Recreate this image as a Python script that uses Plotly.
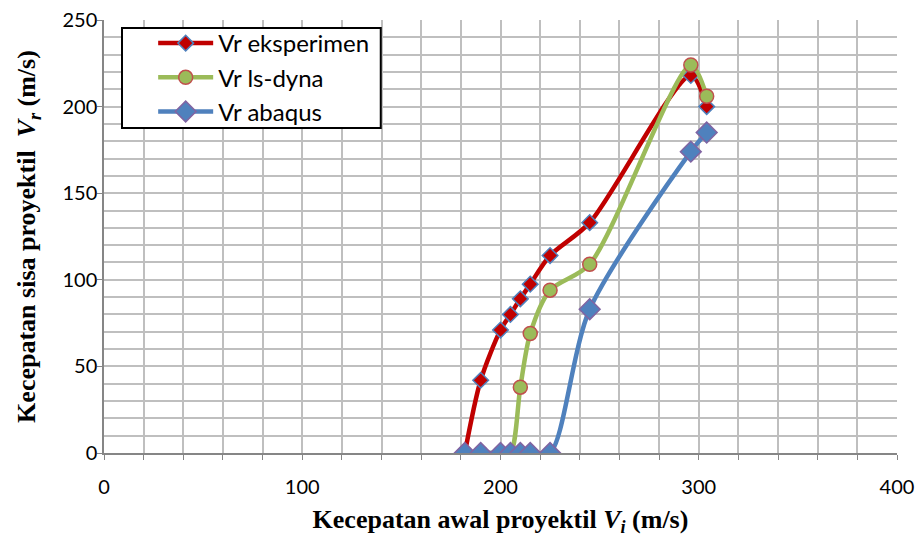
import plotly.graph_objects as go

vi = [182, 190, 200, 205, 210, 215, 225, 245, 296, 304]
vr_eksperimen = [0, 42, 71, 80, 89, 97.5, 114, 133, 218, 200]
vr_lsdyna = [0, 0, 0, 0, 38, 69, 94, 109, 224, 206]
vr_abaqus = [0, 0, 0, 0, 0, 0, 0, 83, 174, 185]

x_ticks = [0, 100, 200, 300, 400]
y_ticks = [0, 50, 100, 150, 200, 250]

fig = go.Figure()
fig.add_trace(go.Scatter(
    x=vi, y=vr_eksperimen, name="Vr eksperimen", mode="lines+markers",
    line=dict(color="#C00000", width=4.5, shape="spline", smoothing=0.8),
    marker=dict(symbol="diamond", size=12, color="#C00000",
                line=dict(color="#4F81BD", width=1.5))))
fig.add_trace(go.Scatter(
    x=vi, y=vr_lsdyna, name="Vr ls-dyna", mode="lines+markers",
    line=dict(color="#9BBB59", width=4.5, shape="spline", smoothing=0.8),
    marker=dict(symbol="circle", size=14, color="#9BBB59",
                line=dict(color="#C0504D", width=1.5))))
fig.add_trace(go.Scatter(
    x=vi, y=vr_abaqus, name="Vr abaqus", mode="lines+markers",
    line=dict(color="#4F81BD", width=4.5, shape="spline", smoothing=0.8),
    marker=dict(symbol="diamond", size=16, color="#4F81BD",
                line=dict(color="#8064A2", width=1.5))))

title_font = dict(family="Liberation Serif, Times New Roman, serif",
                  size=26, color="black", weight="bold")

fig.update_layout(
    width=920, height=540,
    margin=dict(l=104, r=23, t=20, b=87, autoexpand=False),
    paper_bgcolor="white", plot_bgcolor="white",
    font=dict(family="Lato, Open Sans, sans-serif", size=20, color="black"),
    showlegend=True,
    legend=dict(x=0.062, y=0.9977, xanchor="left", yanchor="top",
                bgcolor="rgba(0,0,0,0)", borderwidth=0,
                font=dict(size=24), itemwidth=55, tracegroupgap=0,
                traceorder="normal"),
    shapes=[dict(type="rect", xref="paper", yref="paper",
                 x0=0.0227, x1=0.349, y0=0.7506, y1=0.9815,
                 line=dict(color="black", width=2), fillcolor="white",
                 layer="above")],
    xaxis=dict(range=[0, 400], tickvals=x_ticks, showgrid=True, automargin=False,
               gridcolor="#BFBFBF", gridwidth=1.5,
               minor=dict(dtick=20, showgrid=True, gridcolor="#BFBFBF", gridwidth=1.5,
                          ticks="outside", ticklen=5, tickcolor="#868686"),
               showline=True, linecolor="#868686", linewidth=1.5,
               ticks="outside", ticklen=5, tickcolor="#868686",
               ticklabelstandoff=10, ticklabeloverflow="allow",
               zeroline=False,
               title=dict(text="Kecepatan awal proyektil <i>V<sub>i</sub></i> (m/s)",
                          font=title_font, standoff=13)),
    yaxis=dict(range=[0, 250], tickvals=y_ticks, showgrid=True, automargin=False,
               gridcolor="#BFBFBF", gridwidth=1.5,
               minor=dict(dtick=10, showgrid=True, gridcolor="#BFBFBF", gridwidth=1.5),
               showline=True, linecolor="#868686", linewidth=1.5,
               ticks="outside", ticklen=5, tickcolor="#868686",
               ticklabeloverflow="allow",
               zeroline=False,
               title=dict(text="Kecepatan sisa proyektil  <i>V<sub>r</sub></i> (m/s)",
                          font=title_font, standoff=19)),
)

try:
    fig.update_yaxes(ticklabelstandoff=-4)
except Exception:
    pass

fig.write_html("out.html", config={"displayModeBar": False},
               post_script="document.body.style.margin='0';document.body.style.overflow='hidden';")
